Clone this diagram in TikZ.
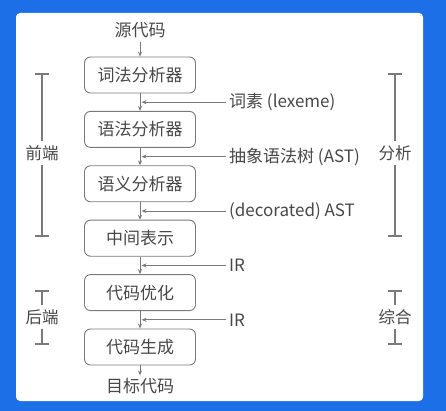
\documentclass[tikz,border=0pt]{standalone}
\usepackage{fontspec}
\setmainfont{Noto Sans CJK SC}
\usetikzlibrary{arrows.meta, positioning}
\definecolor{bgblue}{HTML}{1C6FE6}
\definecolor{linegray}{HTML}{7A7A7A}
\definecolor{textgray}{HTML}{484848}
\tikzstyle{stage} = [rectangle, rounded corners=6pt, draw=linegray, line width=0.9pt, text=textgray, minimum width=111pt, minimum height=36pt, font=\fontsize{17}{19}\selectfont]
\tikzstyle{term} = [text=textgray, inner sep=3pt, font=\fontsize{17}{19}\selectfont]
\tikzstyle{phase} = [text=textgray, inner sep=4pt, font=\fontsize{16.5}{19}\selectfont]
\tikzstyle{flow} = [draw=linegray, line width=0.8pt, -{Stealth[length=5pt,width=4pt]}]
\tikzstyle{brace} = [draw=linegray, line width=1.6pt]

\begin{document}
\begin{tikzpicture}[x=1pt, y=-1pt, node distance=17.5pt]

    % Background
    \fill [bgblue] (0,0) rectangle (446,411);
    \fill [white, rounded corners=4pt] (16,13) rectangle (423,401);

    % Stages
    \node (lex) [stage] at (140,75) {词法分析器};
    \node (syn) [stage, below=of lex] {语法分析器};
    \node (sem) [stage, below=of syn] {语义分析器};
    \node (ir)  [stage, below=of sem] {中间表示};
    \node (opt) [stage, below=of ir]  {代码优化};
    \node (gen) [stage, below=of opt] {代码生成};

    % Input and output
    \node (src) [term, above=15pt of lex] {源代码};
    \node (tgt) [term, below=10pt of gen] {目标代码};

    % Points between the stages
    \path (lex.south) -- coordinate[midway] (m1) (syn.north);
    \path (syn.south) -- coordinate[midway] (m2) (sem.north);
    \path (sem.south) -- coordinate[midway] (m3) (ir.north);
    \path (ir.south)  -- coordinate[midway] (m4) (opt.north);
    \path (opt.south) -- coordinate[midway] (m5) (gen.north);

    % Intermediate results
    \node (lexeme) [term, anchor=west, right=86pt of m1] {词素 (lexeme)};
    \node (ast)    [term, anchor=west, right=86pt of m2] {抽象语法树 (AST)};
    \node (dast)   [term, anchor=west, right=86pt of m3] {(decorated) AST};
    \node (ir1)    [term, anchor=west, right=86pt of m4] {IR};
    \node (ir2)    [term, anchor=west, right=86pt of m5] {IR};

    % Phases
    \node (front) [phase] at (42,153)  {前端};
    \node (back)  [phase] at (42,317)  {后端};
    \node (anal)  [phase] at (395,153) {分析};
    \node (synth) [phase] at (395,317) {综合};
    \coordinate (front_top) at (42,73);
    \coordinate (front_bot) at (42,237);
    \coordinate (back_top)  at (42,290);
    \coordinate (back_bot)  at (42,345);
    \coordinate (anal_top)  at (395,73);
    \coordinate (anal_bot)  at (395,237);
    \coordinate (synth_top) at (395,290);
    \coordinate (synth_bot) at (395,345);

    % ==== Arrows
    \draw [flow] (src) -- (lex);
    \draw [flow] (lex) -- (syn);
    \draw [flow] (syn) -- (sem);
    \draw [flow] (sem) -- (ir);
    \draw [flow] (ir)  -- (opt);
    \draw [flow] (opt) -- (gen);
    \draw [flow] (gen) -- (tgt);

    % Side inputs
    \draw [flow, shorten >=1.5pt] (lexeme) -- (m1);
    \draw [flow, shorten >=1.5pt] (ast)    -- (m2);
    \draw [flow, shorten >=1.5pt] (dast)   -- (m3);
    \draw [flow, shorten >=1.5pt] (ir1)    -- (m4);
    \draw [flow, shorten >=1.5pt] (ir2)    -- (m5);

    % Brackets
    \draw [brace, {Bar[width=14pt]}-] (front_top) -- (front);
    \draw [brace, -{Bar[width=14pt]}] (front) -- (front_bot);
    \draw [brace, {Bar[width=14pt]}-] (back_top) -- (back);
    \draw [brace, -{Bar[width=14pt]}] (back) -- (back_bot);
    \draw [brace, {Bar[width=14pt]}-] (anal_top) -- (anal);
    \draw [brace, -{Bar[width=14pt]}] (anal) -- (anal_bot);
    \draw [brace, {Bar[width=14pt]}-] (synth_top) -- (synth);
    \draw [brace, -{Bar[width=14pt]}] (synth) -- (synth_bot);

\end{tikzpicture}
\end{document}
